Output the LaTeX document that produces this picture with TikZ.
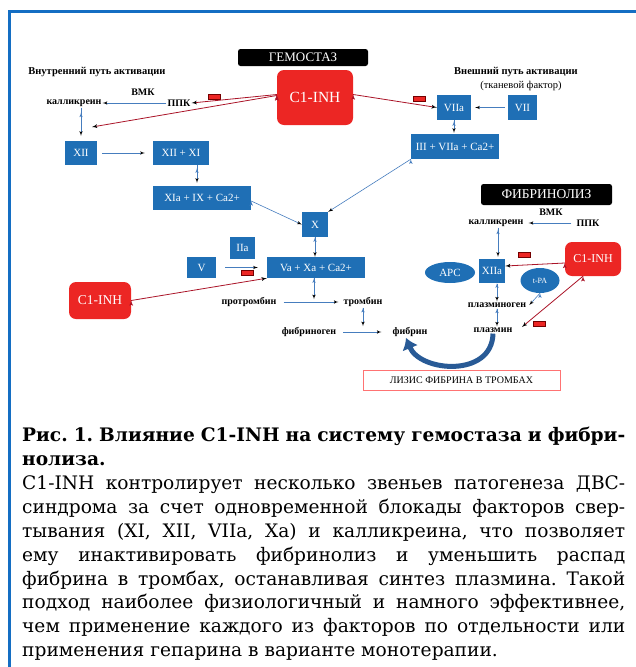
\documentclass[tikz,border=0pt]{standalone}
\usepackage{fontspec}
\setmainfont{Liberation Serif}
\newfontfamily\capfont{DejaVu Serif}
\usepackage{tikz}
\usetikzlibrary{arrows, arrows.meta, positioning, shapes.geometric}

\definecolor{boxblue}{RGB}{31,111,181}
\definecolor{arrowblue}{RGB}{70,125,190}
\definecolor{inhred}{RGB}{236,38,36}
\definecolor{darkred}{RGB}{170,20,40}
\definecolor{frameblue}{RGB}{20,110,195}
\definecolor{lysisblue}{RGB}{40,90,150}

\tikzset{
  factor/.style={fill=boxblue, text=white, inner sep=0pt, font=\fontsize{11}{12}\selectfont},
  inhbox/.style={fill=inhred, text=white, rounded corners=7pt, inner sep=0pt},
  titlebox/.style={fill=black, text=white, rounded corners=2.5pt, inner sep=0pt},
  lbl/.style={font=\bfseries\fontsize{10}{11}\selectfont, inner sep=1pt},
  act/.style={draw=arrowblue, -latex', line width=0.6pt},
  block/.style={draw=darkred, -latex', line width=0.8pt},
  minus/.style={fill=inhred, draw=red!45!black, minimum width=12pt, minimum height=5pt, inner sep=0pt},
}

\begin{document}
\frenchspacing
\begin{tikzpicture}[x=1pt, y=-1pt]
\useasboundingbox (0,0) rectangle (635,667);

\draw [frameblue, line width=3pt] (9,668) -- (9,11) -- (636,11);

% hemostasis
\node [titlebox, minimum width=130pt, minimum height=17pt, font=\fontsize{13}{14}\selectfont] (gemtitle) at (303,57.5) {ГЕМОСТАЗ};
\node [inhbox, minimum width=76pt, minimum height=55pt, font=\fontsize{15.5}{16}\selectfont] (c1top) at (315,97.5) {C1-INH};

\node [lbl, font=\bfseries\fontsize{10.5}{11}\selectfont] (intpath) at (97,72) {Внутренний путь активации};
\node [lbl] (vmk1) at (143,92) {ВМК};
\node [lbl] (kal1) at (74,103) {калликреин};
\node [lbl] (ppk1) at (179,103) {ППК};
\coordinate (kalxii) at (92,127);

\node [factor, minimum width=32pt, minimum height=24pt] (xii) at (81,153) {XII};
\node [factor, minimum width=56pt, minimum height=24pt] (xiixi) at (181,153) {XII + XI};
\node [factor, minimum width=98pt, minimum height=24pt] (xia) at (202,198) {XIa + IX + Ca2+};
\node [factor, minimum width=26pt, minimum height=25pt] (x) at (315,224.5) {X};
\node [factor, minimum width=25pt, minimum height=22pt] (iia) at (242.5,248) {IIa};
\node [factor, minimum width=29pt, minimum height=21pt] (v) at (201.5,267.5) {V};
\node [factor, minimum width=98pt, minimum height=21pt] (va) at (316,267.5) {Va + Xa + Ca2+};
\node [inhbox, minimum width=62pt, minimum height=37pt, font=\fontsize{13.5}{14}\selectfont] (c1left) at (100,300.5) {C1-INH};

\node [lbl] (protr) at (249,302) {протромбин};
\node [lbl] (thromb) at (363,302) {тромбин};
\node [lbl] (fibrinogen) at (309,332) {фибриноген};
\node [lbl] (fibrin) at (410,332) {фибрин};

\node [lbl, font=\bfseries\fontsize{10.5}{11}\selectfont] (extpath) at (516,72) {Внешний путь активации};
\node [inner sep=1pt, font=\fontsize{10.5}{11}\selectfont] (tissue) at (521,86) {(тканевой фактор)};
\node [factor, minimum width=34pt, minimum height=25pt] (viia) at (454,107.5) {VIIa};
\node [factor, minimum width=29pt, minimum height=25pt] (vii) at (522.5,107.5) {VII};
\node [factor, minimum width=88pt, minimum height=25pt] (iii) at (455,146.5) {III + VIIa + Ca2+};

% fibrinolysis
\node [titlebox, minimum width=131pt, minimum height=21pt, font=\fontsize{13.5}{14}\selectfont] (fibtitle) at (546.5,194.5) {ФИБРИНОЛИЗ};
\node [lbl] (vmk2) at (551,212) {ВМК};
\node [lbl] (kal2) at (496,223) {калликреин};
\node [lbl] (ppk2) at (588,223) {ППК};
\node [factor, minimum width=26pt, minimum height=24pt] (xiia) at (492,271) {XIIa};
\node [factor, ellipse, minimum width=50pt, minimum height=21pt] (apc) at (450,272.5) {APC};
\node [factor, ellipse, minimum width=39pt, minimum height=25pt, font=\fontsize{8}{9}\selectfont] (tpa) at (540,280.5) {t-PA};
\node [inhbox, minimum width=56pt, minimum height=34pt, font=\fontsize{12}{13}\selectfont] (c1right) at (593,259) {C1-INH};
\node [lbl] (plasminogen) at (497,305) {плазминоген};
\node [lbl] (plasmin) at (493,330) {плазмин};
\coordinate (plasend) at (522,327);
\node [draw=red!55!white, line width=0.8pt, minimum width=197pt, minimum height=20pt, inner sep=0pt, font=\fontsize{10}{11}\selectfont] (lysis) at (461.5,380) {ЛИЗИС ФИБРИНА В ТРОМБАХ};

% minus marks
\node [minus] (m1) at (214,97) {};
\node [minus] (m2) at (419.5,99) {};
\node [minus] (m3) at (247.5,273) {};
\node [minus] (m4) at (524,255) {};
\node [minus] (m5) at (539.5,324) {};

% activation
\path [act] (ppk1) edge (kal1);
\path [act, shorten >=5pt] (kal1.south -| xii) edge (xii);
\path [act, shorten <=5pt, shorten >=8pt] (xii) edge (xiixi);
\path [act, shorten >=3pt] ([xshift=16pt]xiixi.south) edge ([xshift=-5pt]xia.north);
\path [act] ([yshift=-3pt]xia.east) edge (x.west);
\path [act] (iii.south west) edge (x.north east);
\path [act] (x.south) edge ([xshift=-1pt]va.north);
\path [act, shorten <=9pt, shorten >=9pt] (v) edge (va);
\path [act] ([xshift=-2pt]va.south) edge ([xshift=-2pt, yshift=-3pt]va.south |- protr.north);
\path [act, shorten <=6pt, shorten >=4pt] (protr) edge (thromb);
\path [act] (thromb.south) edge (thromb.south |- fibrinogen.north);
\path [act, shorten <=6pt, shorten >=10pt] (fibrinogen) edge (fibrin);
\path [act, shorten <=3pt, shorten >=4pt] (vii) edge (viia);
\path [act, shorten >=1pt] (viia.south) edge (viia.south |- iii.north);
\path [act, shorten <=4pt, shorten >=4pt] (ppk2) edge (kal2);
\path [act, shorten >=2pt] ([xshift=2pt]kal2.south) edge ([xshift=6pt]xiia.north);
\path [act, shorten <=1pt] ([xshift=5pt]xiia.south) edge ([xshift=5pt]xiia.south |- plasminogen.north);
\path [act] (tpa.south) edge ([xshift=2pt]plasminogen.east);
\path [act] (plasminogen.south) edge (plasminogen.south |- plasmin.north);

% inhibition
\path [block] ([yshift=3pt]c1top.west) edge (ppk1.east);
\path [block] ([yshift=2pt]c1top.west) edge (kalxii);
\path [block] ([yshift=3pt]c1top.east) edge (viia.west);
\path [block] (c1left.east) edge (va.south west);
\path [block] ([yshift=-4pt]c1right.west) edge ([yshift=5pt]xiia.east);
\path [block] ([xshift=-10pt]c1right.south) edge (plasend);

% lysis
\draw [lysisblue, line width=5pt, -{Latex[length=11pt, width=17pt]}] (plasmin.south) .. controls (492,378) and (420,372) .. ([xshift=-4pt]fibrin.south);

% caption
\node [anchor=north west, inner sep=0pt, text width=603pt, align=justify, font=\capfont\fontsize{18.6}{23.9}\selectfont] (caption) at (22,427) {%
{\bfseries Рис. 1. Влияние C1-INH на систему гемостаза и фибри-\linebreak нолиза.}\par
C1-INH контролирует несколько звеньев патогенеза ДВС-\linebreak синдрома за счет одновременной блокады факторов свер-\linebreak тывания (XI, XII, VIIa, Xa) и калликреина, что позволяет\linebreak ему инактивировать фибринолиз и уменьшить распад\linebreak фибрина в тромбах, останавливая синтез плазмина. Такой\linebreak подход наиболее физиологичный и намного эффективнее,\linebreak чем применение каждого из факторов по отдельности или\linebreak применения гепарина в варианте монотерапии.};

\end{tikzpicture}
\end{document}
